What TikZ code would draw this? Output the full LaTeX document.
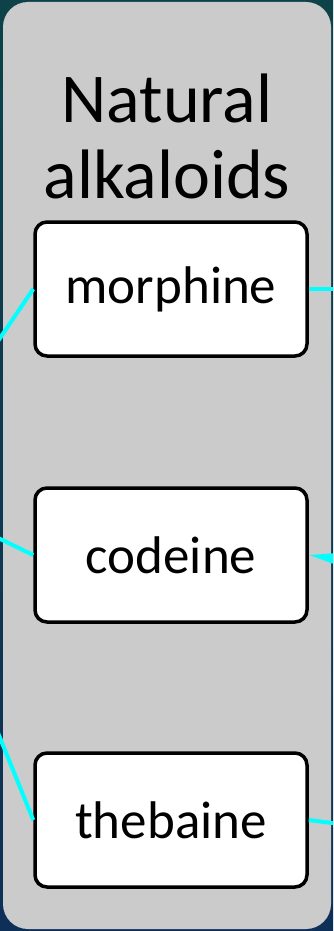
\documentclass[tikz,border=0pt]{standalone}
\usepackage{fontspec}
\setmainfont{Carlito}
\usetikzlibrary{arrows.meta}
\definecolor{bgtop}{RGB}{12,66,72}
\definecolor{bgbot}{RGB}{14,48,88}
\definecolor{panel}{RGB}{203,203,203}
\definecolor{link}{RGB}{0,255,255}
\tikzset{
  drug/.style={draw=black, line width=3.5pt, fill=white, rounded corners=12pt,
    minimum width=272pt, minimum height=134pt, inner sep=0pt,
    font=\fontsize{53}{60}\selectfont},
  heading/.style={anchor=base, inner sep=0pt, font=\fontsize{70}{76}\selectfont},
  wire/.style={draw=link, line width=4pt},
}
\begin{document}
\begin{tikzpicture}[x=1pt, y=-1pt]
  \useasboundingbox (0,0) rectangle (333,931);
  \clip (0,0) rectangle (333,931);
  % backdrop and grey column
  \shade[top color=bgtop, bottom color=bgbot] (0,0) rectangle (333,931);
  \fill[panel, rounded corners=25pt] (3,2) rectangle (331,929);

  % heading
  \node[heading] (t1) at (167,122) {Natural};
  \node[heading] (t2) at (167,198) {alkaloids};

  % alkaloid boxes
  \node[drug] (morphine) at (171,289) {morphine};
  \node[drug] (codeine)  at (171,555) {codeine};
  \node[drug] (thebaine) at (171,820) {thebaine};

  % free ends of the links, just past the edges
  \coordinate (lm) at (-6,347);
  \coordinate (lc) at (-6,536);
  \coordinate (lt) at (-6,723);
  \coordinate (rm) at (340,289);
  \coordinate (rc) at (345,560);
  \coordinate (rt) at (340,824);

  % links
  \draw[wire] (lm) -- (morphine.west);
  \draw[wire] (lc) -- (codeine.west);
  \draw[wire] (lt) -- (thebaine.west);
  \draw[wire] (morphine.east) -- (rm);
  \draw[wire, -{Triangle[length=40pt, width=16pt]}] (rc) -- (codeine.east);
  \draw[wire] (thebaine.east) -- (rt);
\end{tikzpicture}
\end{document}
